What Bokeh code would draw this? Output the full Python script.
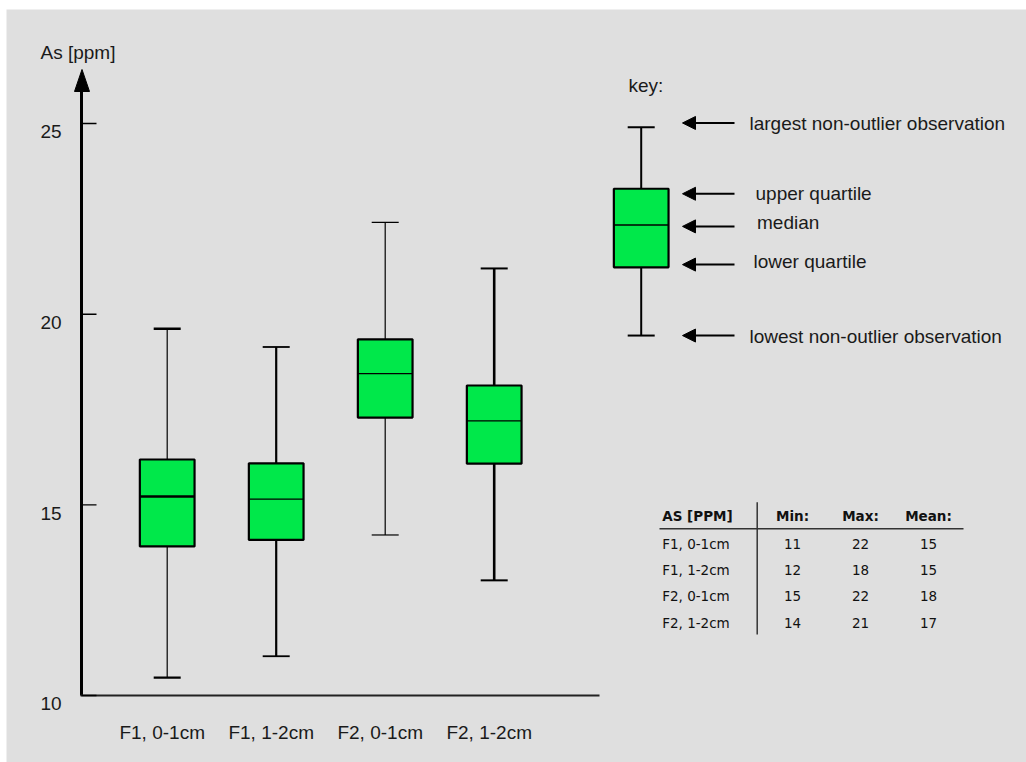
from bokeh.plotting import figure
from bokeh.models import Range1d, ColumnDataSource, Arrow, NormalHead
from bokeh.core.properties import value
from bokeh.embed import file_html
from bokeh.resources import INLINE

# ---------------- data ----------------
categories = ["F1, 0-1cm", "F1, 1-2cm", "F2, 0-1cm", "F2, 1-2cm"]
whisker_low = [10.47, 11.03, 14.21, 13.02]
quartile_1 = [13.91, 14.08, 17.29, 16.08]
medians = [15.22, 15.15, 18.44, 17.20]
quartile_3 = [16.19, 16.09, 19.34, 18.13]
whisker_high = [19.62, 19.14, 22.41, 21.20]

y_ticks = [10, 15, 20, 25]
y_title = "As [ppm]"

key_title = "key:"
# low whisker, lower quartile, median, upper quartile, high whisker
key_stats = [19.44, 21.23, 22.34, 23.29, 24.90]
key_labels = ["lowest non-outlier observation", "lower quartile", "median",
              "upper quartile", "largest non-outlier observation"]

table_header = ["AS [PPM]", "Min:", "Max:", "Mean:"]
table_min = [11, 12, 15, 14]
table_max = [22, 18, 22, 21]
table_mean = [15, 15, 18, 17]

# ---------------- layout ----------------
W, H = 1026, 762
PAD_L, PAD_T = 6, 9
PX_X = 109.0       # pixels between neighbouring boxes
PX_Y = 38.13       # pixels per ppm
FIRST_PX = 166.7   # pixel column of the first box
BASE_PX = 695.0    # pixel row of the lowest tick

x_start = 1 - (FIRST_PX - PAD_L) / PX_X
x_end = x_start + (W - PAD_L) / PX_X
y_start = y_ticks[0] - (H - BASE_PX) / PX_Y
y_end = y_ticks[0] + (BASE_PX - PAD_T) / PX_Y


def xd(px):
    return x_start + (px - PAD_L) / PX_X


def yd(py):
    return y_start + (H - py) / PX_Y


GREEN = "#00e84a"
BG = "#dfdfdf"
INK = "#1a1a1a"
SANS = value("Liberation Sans")
TABLE_FONT = value("DejaVu Sans")
BOX_W = 54.7 / PX_X
CAP_W = 27.0 / PX_X

p = figure(width=W, height=H, x_range=Range1d(x_start, x_end),
           y_range=Range1d(y_start, y_end), x_axis_type=None, y_axis_type=None,
           toolbar_location=None, output_backend="svg",
           min_border_left=PAD_L, min_border_top=PAD_T,
           min_border_right=0, min_border_bottom=0,
           background_fill_color=BG, border_fill_color="white",
           outline_line_color=None)


def draw_boxes(xs, lo, a, m, b, hi, whisk_w, cap_w, med_w):
    src = ColumnDataSource(dict(
        x=xs, lo=lo, q1=a, med=m, q3=b, hi=hi, ww=whisk_w, cw=cap_w, mw=med_w,
        cx0=[x - CAP_W / 2 for x in xs], cx1=[x + CAP_W / 2 for x in xs],
        bx0=[x - BOX_W / 2 for x in xs], bx1=[x + BOX_W / 2 for x in xs]))
    p.segment(x0="x", y0="q3", x1="x", y1="hi", line_width="ww", line_color="black", source=src)
    p.segment(x0="x", y0="q1", x1="x", y1="lo", line_width="ww", line_color="black", source=src)
    p.segment(x0="cx0", y0="hi", x1="cx1", y1="hi", line_width="cw", line_color="black", source=src)
    p.segment(x0="cx0", y0="lo", x1="cx1", y1="lo", line_width="cw", line_color="black", source=src)
    p.vbar(x="x", width=BOX_W, bottom="q1", top="q3", fill_color=GREEN,
           line_color="black", line_width=2.2, source=src)
    p.segment(x0="bx0", y0="med", x1="bx1", y1="med", line_width="mw", line_color="black", source=src)


positions = list(range(1, len(categories) + 1))
draw_boxes(positions, whisker_low, quartile_1, medians, quartile_3, whisker_high,
           whisk_w=[1.2, 2.2, 1.2, 2.6], cap_w=[2.4, 1.8, 1.2, 2.0],
           med_w=[2.4, 1.4, 1.3, 1.3])

# ---------------- axes ----------------
ax_x = xd(81)
p.segment(x0=[ax_x], y0=[y_ticks[0]], x1=[ax_x], y1=[yd(88)], line_width=3, line_color="black")
p.patch(x=[xd(74), xd(81.5), xd(89)], y=[yd(91), yd(69), yd(91)],
        fill_color="black", line_color="black")
p.segment(x0=[xd(80)], y0=[y_ticks[0]], x1=[xd(599)], y1=[y_ticks[0]],
          line_width=2, line_color="#222222")
p.segment(x0=[ax_x] * len(y_ticks), y0=y_ticks, x1=[xd(96)] * len(y_ticks), y1=y_ticks,
          line_width=1.4, line_color="black")
p.text(x=[xd(40)] * len(y_ticks), y=[t - 8.4 / PX_Y for t in y_ticks],
       text=[str(t) for t in y_ticks], text_font=SANS, text_font_size="19px",
       text_color=INK, text_align="left", text_baseline="middle")
p.text(x=[xd(40)], y=[yd(52)], text=[y_title], text_font=SANS, text_font_size="19px",
       text_color=INK, text_align="left", text_baseline="middle")
p.text(x=positions, y=[yd(731.7)] * len(positions), text=categories, x_offset=-5,
       text_font=SANS, text_font_size="19px", text_color=INK,
       text_align="center", text_baseline="middle")

# ---------------- key ----------------
key_x = xd(640.7)
p.text(x=[xd(628)], y=[yd(85)], text=[key_title], text_font=SANS, text_font_size="19px",
       text_color=INK, text_align="left", text_baseline="middle")
draw_boxes([key_x], [key_stats[0]], [key_stats[1]], [key_stats[2]], [key_stats[3]],
           [key_stats[4]], whisk_w=[2.0], cap_w=[2.0], med_w=[1.5])
# pointer arrows and their captions sit a few pixels off the marks they name
arrow_nudge = [0.0, 2.7, -1.4, -5.0, 4.4]
label_nudge = [-0.7, 6.0, 2.6, -4.7, 3.9]
label_px = [749, 753, 756.5, 755, 749]
for v, n in zip(key_stats, arrow_nudge):
    ya = v + n / PX_Y
    p.add_layout(Arrow(end=NormalHead(size=13, fill_color="black", line_color="black"),
                       x_start=xd(734), y_start=ya, x_end=xd(682), y_end=ya,
                       line_width=2, line_color="black"))
p.text(x=[xd(px) for px in label_px],
       y=[v + n / PX_Y for v, n in zip(key_stats, label_nudge)],
       text=key_labels, text_font=SANS, text_font_size="19px", text_color=INK,
       text_align="left", text_baseline="middle")

# ---------------- summary table ----------------
ROW0, ROW_STEP = 543.3, 26.3
col_px = [792, 860, 928]
row_y = [yd(ROW0 + i * ROW_STEP) for i in range(len(categories))]
p.segment(x0=[xd(756.7)], y0=[yd(501.7)], x1=[xd(756.7)], y1=[yd(634)],
          line_width=1.5, line_color="#333333")
p.segment(x0=[xd(659)], y0=[yd(528.3)], x1=[xd(963)], y1=[yd(528.3)],
          line_width=1.5, line_color="#333333")
TFS = "13.5px"
p.text(x=[xd(661.7)], y=[yd(515)], text=[table_header[0]], text_font=TABLE_FONT,
       text_font_size=TFS, text_font_style="bold", text_color="#111111",
       text_align="left", text_baseline="middle")
p.text(x=[xd(px) for px in col_px], y=[yd(515)] * 3, text=table_header[1:],
       text_font=TABLE_FONT, text_font_size=TFS, text_font_style="bold",
       text_color="#111111", text_align="center", text_baseline="middle")
p.text(x=[xd(661.7)] * len(categories), y=row_y, text=categories, text_font=TABLE_FONT,
       text_font_size=TFS, text_color="#111111", text_align="left",
       text_baseline="middle")
for px, col in zip(col_px, [table_min, table_max, table_mean]):
    p.text(x=[xd(px)] * len(col), y=row_y, text=[str(v) for v in col],
           text_font=TABLE_FONT, text_font_size=TFS, text_color="#111111",
           text_align="center", text_baseline="middle")

open("out.html", "w").write(file_html(p, INLINE))
